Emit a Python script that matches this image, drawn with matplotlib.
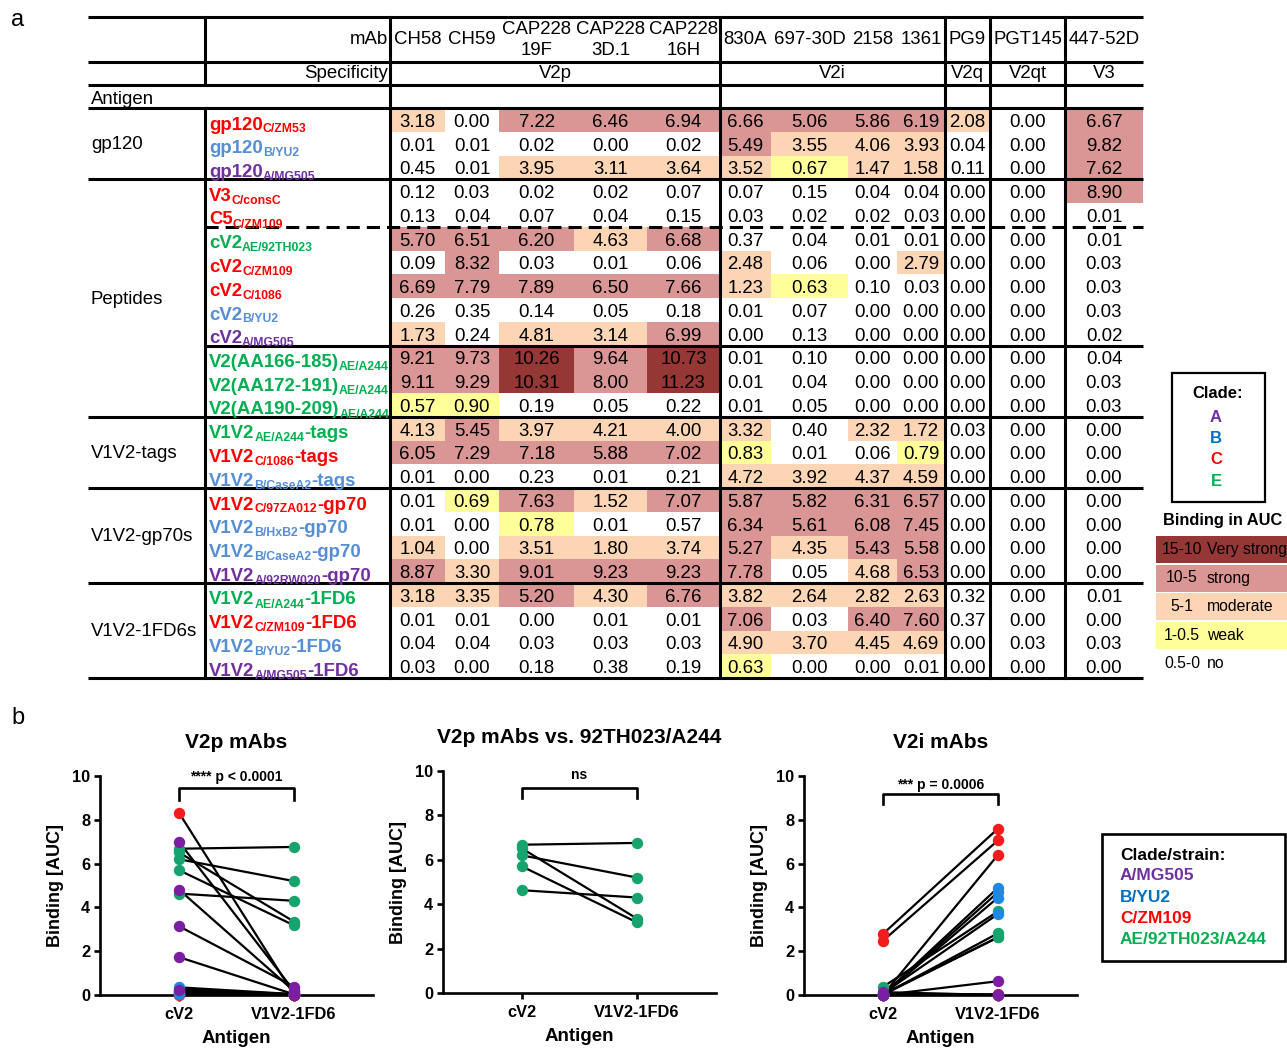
import matplotlib.pyplot as plt
from matplotlib.patches import Rectangle
import numpy as np

plt.rcParams['font.family'] = ['Liberation Sans', 'DejaVu Sans']

# ---------------- table data ----------------
mabs = ['CH58', 'CH59', 'CAP228\n19F', 'CAP228\n3D.1', 'CAP228\n16H',
        '830A', '697-30D', '2158', '1361', 'PG9', 'PGT145', '447-52D']
specificity = ['V2p', 'V2i', 'V2q', 'V2qt', 'V3']
spec_ncols = [5, 4, 1, 1, 1]

groups = ['gp120', 'Peptides', 'V1V2-tags', 'V1V2-gp70s', 'V1V2-1FD6s']
group_nrows = [3, 10, 3, 4, 4]

ag_main = ['gp120', 'gp120', 'gp120', 'V3', 'C5',
           'cV2', 'cV2', 'cV2', 'cV2', 'cV2',
           'V2(AA166-185)', 'V2(AA172-191)', 'V2(AA190-209)',
           'V1V2', 'V1V2', 'V1V2',
           'V1V2', 'V1V2', 'V1V2', 'V1V2',
           'V1V2', 'V1V2', 'V1V2', 'V1V2']
ag_sub = ['C/ZM53', 'B/YU2', 'A/MG505', 'C/consC', 'C/ZM109',
          'AE/92TH023', 'C/ZM109', 'C/1086', 'B/YU2', 'A/MG505',
          'AE/A244', 'AE/A244', 'AE/A244',
          'AE/A244', 'C/1086', 'B/CaseA2',
          'C/97ZA012', 'B/HxB2', 'B/CaseA2', 'A/92RW020',
          'AE/A244', 'C/ZM109', 'B/YU2', 'A/MG505']
ag_tail = [''] * 13 + ['-tags'] * 3 + ['-gp70'] * 4 + ['-1FD6'] * 4
ag_clade = ['C', 'B', 'A', 'C', 'C', 'E', 'C', 'C', 'B', 'A', 'E', 'E', 'E',
            'E', 'C', 'B', 'C', 'B', 'B', 'A', 'E', 'C', 'B', 'A']

auc = np.array([
    [3.18, 0.00, 7.22, 6.46, 6.94, 6.66, 5.06, 5.86, 6.19, 2.08, 0.00, 6.67],
    [0.01, 0.01, 0.02, 0.00, 0.02, 5.49, 3.55, 4.06, 3.93, 0.04, 0.00, 9.82],
    [0.45, 0.01, 3.95, 3.11, 3.64, 3.52, 0.67, 1.47, 1.58, 0.11, 0.00, 7.62],
    [0.12, 0.03, 0.02, 0.02, 0.07, 0.07, 0.15, 0.04, 0.04, 0.00, 0.00, 8.90],
    [0.13, 0.04, 0.07, 0.04, 0.15, 0.03, 0.02, 0.02, 0.03, 0.00, 0.00, 0.01],
    [5.70, 6.51, 6.20, 4.63, 6.68, 0.37, 0.04, 0.01, 0.01, 0.00, 0.00, 0.01],
    [0.09, 8.32, 0.03, 0.01, 0.06, 2.48, 0.06, 0.00, 2.79, 0.00, 0.00, 0.03],
    [6.69, 7.79, 7.89, 6.50, 7.66, 1.23, 0.63, 0.10, 0.03, 0.00, 0.00, 0.03],
    [0.26, 0.35, 0.14, 0.05, 0.18, 0.01, 0.07, 0.00, 0.00, 0.00, 0.00, 0.03],
    [1.73, 0.24, 4.81, 3.14, 6.99, 0.00, 0.13, 0.00, 0.00, 0.00, 0.00, 0.02],
    [9.21, 9.73, 10.26, 9.64, 10.73, 0.01, 0.10, 0.00, 0.00, 0.00, 0.00, 0.04],
    [9.11, 9.29, 10.31, 8.00, 11.23, 0.01, 0.04, 0.00, 0.00, 0.00, 0.00, 0.03],
    [0.57, 0.90, 0.19, 0.05, 0.22, 0.01, 0.05, 0.00, 0.00, 0.00, 0.00, 0.03],
    [4.13, 5.45, 3.97, 4.21, 4.00, 3.32, 0.40, 2.32, 1.72, 0.03, 0.00, 0.00],
    [6.05, 7.29, 7.18, 5.88, 7.02, 0.83, 0.01, 0.06, 0.79, 0.00, 0.00, 0.00],
    [0.01, 0.00, 0.23, 0.01, 0.21, 4.72, 3.92, 4.37, 4.59, 0.00, 0.00, 0.00],
    [0.01, 0.69, 7.63, 1.52, 7.07, 5.87, 5.82, 6.31, 6.57, 0.00, 0.00, 0.00],
    [0.01, 0.00, 0.78, 0.01, 0.57, 6.34, 5.61, 6.08, 7.45, 0.00, 0.00, 0.00],
    [1.04, 0.00, 3.51, 1.80, 3.74, 5.27, 4.35, 5.43, 5.58, 0.00, 0.00, 0.00],
    [8.87, 3.30, 9.01, 9.23, 9.23, 7.78, 0.05, 4.68, 6.53, 0.00, 0.00, 0.00],
    [3.18, 3.35, 5.20, 4.30, 6.76, 3.82, 2.64, 2.82, 2.63, 0.32, 0.00, 0.01],
    [0.01, 0.01, 0.00, 0.01, 0.01, 7.06, 0.03, 6.40, 7.60, 0.37, 0.00, 0.00],
    [0.04, 0.04, 0.03, 0.03, 0.03, 4.90, 3.70, 4.45, 4.69, 0.00, 0.03, 0.03],
    [0.03, 0.00, 0.18, 0.38, 0.19, 0.63, 0.00, 0.00, 0.01, 0.00, 0.00, 0.00],
])
unshaded = [(17, 4)]  # left white in the original

bins_lo = [10, 5, 1, 0.5]
bins_txt = ['15-10', '10-5', '5-1', '1-0.5', '0.5-0']
bins_name = ['Very strong', 'strong', 'moderate', 'weak', 'no']
bins_col = ['#953735', '#D99694', '#FCD5B5', '#FFFF99', 'white']

clade_col = {'A': '#7030A0', 'B': '#558ED5', 'C': '#FF0000', 'E': '#00B050'}
clade_leg_col = {'A': '#7030A0', 'B': '#0070C0', 'C': '#FF0000', 'E': '#00B050'}

# ---------------- panel b data (rows of the table) ----------------
strains = ['AE/92TH023/A244', 'C/ZM109', 'B/YU2', 'A/MG505']
strain_dot = ['#16A36E', '#F21C1C', '#1E88E5', '#7B1FA2']
cv2_row = [5, 6, 8, 9]
fd6_row = [20, 21, 22, 23]
v2p_cols = [0, 1, 2, 3, 4]
v2i_cols = [5, 6, 7, 8]

# ---------------- layout ----------------
W, H = 1287, 1048
fig = plt.figure(figsize=(W / 100, H / 100), dpi=100)
ax = fig.add_axes([0, 0, 1, 1])
ax.set_xlim(0, W)
ax.set_ylim(H, 0)
ax.axis('off')
r = fig.canvas.get_renderer()

LW = 2.2
FS = 13.4
col_edges = [390, 445, 499, 574, 647, 720, 771, 848, 897, 945, 990, 1065, 1143]
x0, xg, xr = 88, 205, 1143
y_top, y_mab, y_spec, y_body = 17, 62, 85, 108
row_h = 23.75
nrow = len(ag_main)
y_end = y_body + nrow * row_h


def cell_color(v):
    for lo, c in zip(bins_lo, bins_col):
        if v >= lo:
            return c
    return None


for i in range(nrow):
    for j in range(len(mabs)):
        v = auc[i, j]
        c = cell_color(v)
        if c and (i, j) not in unshaded:
            ax.add_patch(Rectangle((col_edges[j], y_body + i * row_h),
                                   col_edges[j + 1] - col_edges[j], row_h,
                                   fc=c, ec='none', zorder=1))
        ax.text((col_edges[j] + col_edges[j + 1]) / 2, y_body + (i + 0.5) * row_h + 2.5,
                '%.2f' % v, ha='center', va='center', fontsize=FS, zorder=3)

# header
for j, m in enumerate(mabs):
    ax.text((col_edges[j] + col_edges[j + 1]) / 2, 40, m, ha='center', va='center',
            fontsize=FS, linespacing=1.25)
ax.text(388, 40, 'mAb', ha='right', va='center', fontsize=FS)
ax.text(388, 74, 'Specificity', ha='right', va='center', fontsize=FS)
ax.text(91, 100, 'Antigen', ha='left', va='center', fontsize=FS)
k = 0
for s, n in zip(specificity, spec_ncols):
    ax.text((col_edges[k] + col_edges[k + n]) / 2, 74, s, ha='center', va='center', fontsize=FS)
    k += n

# grid lines
def hline(y, xa, ls='-'):
    ax.plot([xa, xr], [y, y], color='k', lw=LW, ls=ls, solid_capstyle='butt', zorder=4)

for y in [y_top, y_mab, y_spec, y_body]:
    hline(y, x0)
bound = 0
for g, n in zip(groups, group_nrows):
    yc = y_body + (bound + n / 2) * row_h
    ax.text(91, yc + 1, g, ha='left', va='center', fontsize=FS)
    bound += n
    hline(y_body + bound * row_h, x0)
hline(y_body + 5 * row_h, xg, ls=(0, (4.3, 2.3)))
hline(y_body + 10 * row_h, xg)

ax.plot([xg, xg], [y_top, y_spec], color='k', lw=LW, zorder=4)
ax.plot([xg, xg], [y_body, y_end], color='k', lw=LW, zorder=4)
for xv in [390, 720, 945, 990, 1065]:
    ax.plot([xv, xv], [y_top, y_end], color='k', lw=LW, zorder=4)

# antigen labels with subscripts
inv = ax.transData.inverted()
for i in range(nrow):
    c = clade_col[ag_clade[i]]
    yb = y_body + i * row_h + 21.5
    t = ax.text(209, yb, ag_main[i], fontsize=13.4, weight='bold', color=c, va='baseline', zorder=5)
    xe = inv.transform((t.get_window_extent(r).x1, 0))[0]
    t = ax.text(xe, yb + 3, ag_sub[i], fontsize=8.8, weight='bold', color=c, va='baseline', zorder=5)
    xe = inv.transform((t.get_window_extent(r).x1, 0))[0]
    if ag_tail[i]:
        ax.text(xe, yb, ag_tail[i], fontsize=13.4, weight='bold', color=c, va='baseline', zorder=5)

ax.text(18, 20, 'a', fontsize=17, ha='center', va='center')
ax.text(18, 718, 'b', fontsize=17, ha='center', va='center')

# clade box
ax.add_patch(Rectangle((1172, 373), 93, 129, fc='none', ec='k', lw=1.6))
ax.text(1218, 394, 'Clade:', ha='center', va='center', fontsize=12, weight='bold')
for q, cl in enumerate(['A', 'B', 'C', 'E']):
    ax.text(1216, 417 + q * 21.5, cl, ha='center', va='center', fontsize=12,
            weight='bold', color=clade_leg_col[cl])

# binding key
ax.text(1223, 520, 'Binding in AUC', ha='center', va='center', fontsize=11.8, weight='bold')
for q in range(5):
    yk = 536 + q * 28.5
    ax.add_patch(Rectangle((1156, yk), 140, 27, fc=bins_col[q], ec='none'))
    ax.text(1182, yk + 13.5, bins_txt[q], ha='center', va='center', fontsize=11.3)
    ax.text(1207, yk + 13.5, bins_name[q], ha='left', va='center', fontsize=11.3)

# ---------------- panel b ----------------
panels = [('V2p mAbs', v2p_cols, [0, 1, 2, 3], '**** p < 0.0001', (100, 373, 776, 995), (8.9, 9.45, 9.95)),
          ('V2p mAbs vs. 92TH023/A244', v2p_cols, [0], 'ns', (443, 716, 771, 993), (8.8, 9.25, 9.8)),
          ('V2i mAbs', v2i_cols, [0, 1, 2, 3], '*** p = 0.0006', (804, 1077, 776, 995), (8.7, 9.2, 9.6))]

for title, cols, sidx, sig, (l, rr, t, b), (leg, top, ty) in panels:
    pax = fig.add_axes([l / W, 1 - b / H, (rr - l) / W, (b - t) / H])
    pax.set_xlim(-0.687, 1.687)
    pax.set_ylim(0, 10)
    for s in sidx:
        for j in cols:
            pax.plot([0, 1], [auc[cv2_row[s], j], auc[fd6_row[s], j]], color='k', lw=1.6,
                     zorder=2, clip_on=False)
    for s in sidx:
        for j in cols:
            pax.plot([0, 1], [auc[cv2_row[s], j], auc[fd6_row[s], j]], ls='none', marker='o',
                     ms=7.2, mfc=strain_dot[s], mec=strain_dot[s], zorder=3, clip_on=False)
    pax.spines[['top', 'right']].set_visible(False)
    for sp in ['left', 'bottom']:
        pax.spines[sp].set_linewidth(1.9)
    pax.set_xticks([0, 1])
    pax.set_xticklabels(['cV2', 'V1V2-1FD6'], fontsize=11.8, fontweight='bold')
    pax.set_yticks(range(0, 11, 2))
    pax.set_yticklabels([str(v) for v in range(0, 11, 2)], fontsize=11.8, fontweight='bold')
    pax.tick_params(width=1.9, length=4.5, pad=2.5)
    pax.tick_params(axis='x', pad=4)
    pax.set_ylabel('Binding [AUC]', fontsize=13, fontweight='bold', labelpad=6)
    pax.set_xlabel('Antigen', fontsize=13.5, fontweight='bold', labelpad=6)
    pax.set_title(title, fontsize=15, fontweight='bold', pad=20)
    pax.plot([0, 0, 1, 1], [leg, top, top, leg], color='k', lw=1.9, clip_on=False)
    pax.text(0.5, ty, sig, ha='center', va='center', fontsize=10, fontweight='bold')

# strain legend
ax.add_patch(Rectangle((1102, 834), 183, 127, fc='none', ec='k', lw=1.9))
ax.text(1120, 855, 'Clade/strain:', ha='left', va='center', fontsize=12.5, weight='bold')
leg_cols = [clade_leg_col['A'], clade_leg_col['B'], clade_leg_col['C'], clade_leg_col['E']]
for q, (nm, c) in enumerate(zip(strains[::-1], leg_cols)):
    ax.text(1120, 876 + q * 21.3, nm, ha='left', va='center', fontsize=12.5, weight='bold', color=c)

fig.savefig('out.png', dpi=100)
